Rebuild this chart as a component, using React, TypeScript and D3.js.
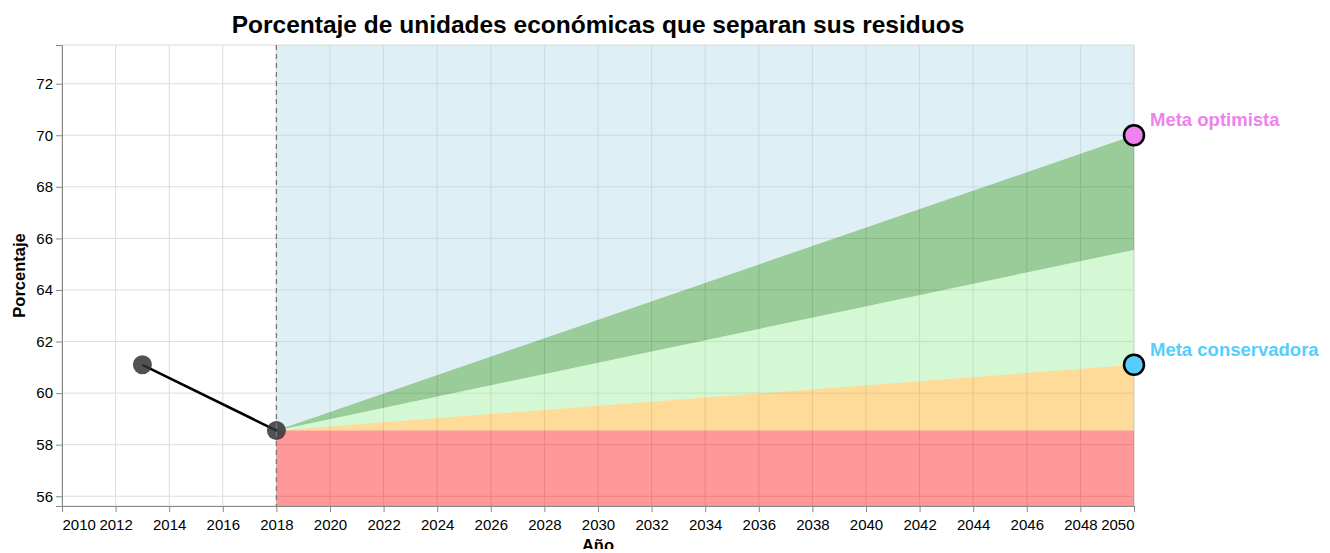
import { useEffect, useRef } from "react";
import * as d3 from "d3";

// observed series
const histYears = [2013, 2018];
const histValues = [61.1, 58.55];

// projection bands, from 2018 to 2050
const bandYears = [2018, 2050];
const optimista = [58.55, 70.0];
const intermedia = [58.55, 65.55];
const conservadora = [58.55, 61.1];
const base = [58.55, 58.55];

const metaLabels = ["Meta optimista", "Meta conservadora"];
const metaValues = [70.0, 61.1];
const metaColors = ["#ee82ee", "#56cdfc"];

const xTicks = d3.range(2010, 2051, 2);
const yTicks = d3.range(56, 73, 2);

const App = () => {
  const ref = useRef<HTMLDivElement>(null);

  useEffect(() => {
    const width = 1330;
    const height = 553;
    const margin = { top: 45, right: 196, bottom: 47, left: 62 };

    const svg = d3
      .select(ref.current)
      .html("")
      .append("svg")
      .attr("width", width)
      .attr("height", height)
      .style("font-family", "'Liberation Sans', Arial, sans-serif");

    const x = d3
      .scaleLinear()
      .domain([2010, 2050])
      .range([margin.left, width - margin.right]);

    const yMin = 58.55 * 0.95;
    const yMax = 70 * 1.05;
    const y = d3
      .scaleLinear()
      .domain([yMin, yMax])
      .range([height - margin.bottom, margin.top]);

    const x0 = x.range()[0];
    const x1 = x.range()[1];
    const yTop = y.range()[1];
    const yBot = y.range()[0];

    // grid
    const grid = svg.append("g");
    grid
      .selectAll("line.gx")
      .data(xTicks)
      .enter()
      .append("line")
      .attr("x1", (d) => x(d))
      .attr("x2", (d) => x(d))
      .attr("y1", yTop)
      .attr("y2", yBot)
      .attr("stroke", "#ddd");
    grid
      .selectAll("line.gy")
      .data(yTicks)
      .enter()
      .append("line")
      .attr("x1", x0)
      .attr("x2", x1)
      .attr("y1", (d) => y(d))
      .attr("y2", (d) => y(d))
      .attr("stroke", "#ddd");
    svg
      .append("rect")
      .attr("x", x0)
      .attr("y", yTop)
      .attr("width", x1 - x0)
      .attr("height", yBot - yTop)
      .attr("fill", "none")
      .attr("stroke", "#ddd");

    const idx = [0, 1];
    const band = (lo: number[] | null, hi: number[] | null) =>
      d3
        .area<number>()
        .x((i) => x(bandYears[i]))
        .y0((i) => (lo ? y(lo[i]) : yBot))
        .y1((i) => (hi ? y(hi[i]) : yTop))(idx);

    const layers = [
      { path: band(optimista, null), fill: "#add8e6" },
      { path: band(intermedia, optimista), fill: "#008000" },
      { path: band(conservadora, intermedia), fill: "#90ee90" },
      { path: band(base, conservadora), fill: "#ffa500" },
      { path: band(null, base), fill: "#ff0000" },
    ];
    svg
      .append("g")
      .selectAll("path")
      .data(layers)
      .enter()
      .append("path")
      .attr("d", (d) => d.path)
      .attr("fill", (d) => d.fill)
      .attr("fill-opacity", 0.4);

    // axes
    const xAxis = svg
      .append("g")
      .attr("transform", `translate(0,${yBot})`)
      .call(
        d3
          .axisBottom(x)
          .tickValues(xTicks)
          .tickFormat(d3.format("d"))
          .tickSize(6)
          .tickPadding(7)
      );
    xAxis.selectAll<SVGTextElement, number>("text").attr("text-anchor", (d) =>
      d === 2010 ? "start" : d === 2050 ? "end" : "middle"
    );
    const yAxis = svg
      .append("g")
      .attr("transform", `translate(${x0},0)`)
      .call(d3.axisLeft(y).tickValues(yTicks).tickSize(6).tickPadding(3));
    [xAxis, yAxis].forEach((g) => {
      g.attr("font-family", null);
      g.selectAll("path,line").attr("stroke", "#888");
      g.selectAll("text").attr("font-size", 15).attr("fill", "#000");
    });

    // observed line
    const line = d3
      .line<number>()
      .x((i) => x(histYears[i]))
      .y((i) => y(histValues[i]));
    svg
      .append("path")
      .attr("d", line(idx))
      .attr("fill", "none")
      .attr("stroke", "#000")
      .attr("stroke-width", 2.5);
    svg
      .append("g")
      .selectAll("circle")
      .data(idx)
      .enter()
      .append("circle")
      .attr("cx", (i) => x(histYears[i]))
      .attr("cy", (i) => y(histValues[i]))
      .attr("r", 9.5)
      .attr("fill", "#333")
      .attr("fill-opacity", 0.85);

    // start of projection
    svg
      .append("line")
      .attr("x1", x(2018))
      .attr("x2", x(2018))
      .attr("y1", yTop)
      .attr("y2", yBot)
      .attr("stroke", "#777")
      .attr("stroke-width", 1.3)
      .attr("stroke-dasharray", "5,4");

    // goals
    const metas = svg.append("g");
    metas
      .selectAll("circle")
      .data(metaValues)
      .enter()
      .append("circle")
      .attr("cx", x(2050))
      .attr("cy", (d) => y(d))
      .attr("r", 10)
      .attr("fill", (_, i) => metaColors[i])
      .attr("stroke", "#000")
      .attr("stroke-width", 2.5);
    metas
      .selectAll("text")
      .data(metaValues)
      .enter()
      .append("text")
      .attr("x", x(2050) + 16)
      .attr("y", (d) => y(d) - 9)
      .attr("fill", (_, i) => metaColors[i])
      .attr("font-size", 18.5)
      .attr("font-weight", "bold")
      .text((_, i) => metaLabels[i]);

    // titles
    svg
      .append("text")
      .attr("x", (x0 + x1) / 2)
      .attr("y", 33)
      .attr("text-anchor", "middle")
      .attr("font-size", 24.5)
      .attr("font-weight", "bold")
      .text("Porcentaje de unidades económicas que separan sus residuos");
    svg
      .append("text")
      .attr("x", (x0 + x1) / 2)
      .attr("y", 551)
      .attr("text-anchor", "middle")
      .attr("font-size", 16.5)
      .attr("font-weight", "bold")
      .text("Año");
    svg
      .append("text")
      .attr("transform", `translate(25,${(yTop + yBot) / 2}) rotate(-90)`)
      .attr("text-anchor", "middle")
      .attr("font-size", 16.5)
      .attr("font-weight", "bold")
      .text("Porcentaje");
  }, []);

  return <div ref={ref} style={{ margin: -8 }} />;
};

export default App;
